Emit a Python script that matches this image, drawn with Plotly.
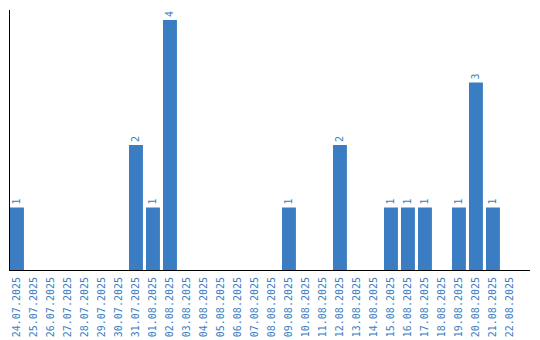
import plotly.graph_objects as go

dates = ["24.07.2025","25.07.2025","26.07.2025","27.07.2025","28.07.2025","29.07.2025","30.07.2025",
         "31.07.2025","01.08.2025","02.08.2025","03.08.2025","04.08.2025","05.08.2025","06.08.2025",
         "07.08.2025","08.08.2025","09.08.2025","10.08.2025","11.08.2025","12.08.2025","13.08.2025",
         "14.08.2025","15.08.2025","16.08.2025","17.08.2025","18.08.2025","19.08.2025","20.08.2025",
         "21.08.2025","22.08.2025"]
counts = [1,0,0,0,0,0,0,2,1,4,0,0,0,0,0,0,1,0,0,2,0,0,1,1,1,0,1,3,1,0]

color = "#3a7dc2"
labels = [str(v) if v > 0 else "" for v in counts]

fig = go.Figure(go.Bar(
    x=dates, y=counts, marker_color=color, marker_line_width=0,
    text=labels, textposition="outside", textangle=-90,
    textfont=dict(family="DejaVu Sans Mono", size=10, color=color),
    cliponaxis=False, width=0.82,
))
fig.update_layout(
    width=540, height=340, margin=dict(l=10, r=10, t=10, b=70, autoexpand=False),
    paper_bgcolor="white", plot_bgcolor="white", showlegend=False,
    xaxis=dict(type="category", range=[-0.41, 30.18], showgrid=False, showline=True,
               linecolor="black", linewidth=1, tickangle=-90, ticks="", automargin=False,
               ticklabelstandoff=2,
               tickfont=dict(family="DejaVu Sans Mono", size=10, color=color)),
    yaxis=dict(range=[0, 4.16], showgrid=False, showline=True, linecolor="black",
               linewidth=1, showticklabels=False, ticks="", zeroline=False, automargin=False),
    uniformtext=dict(minsize=10, mode="show"),
)
fig.write_html("out.html")
